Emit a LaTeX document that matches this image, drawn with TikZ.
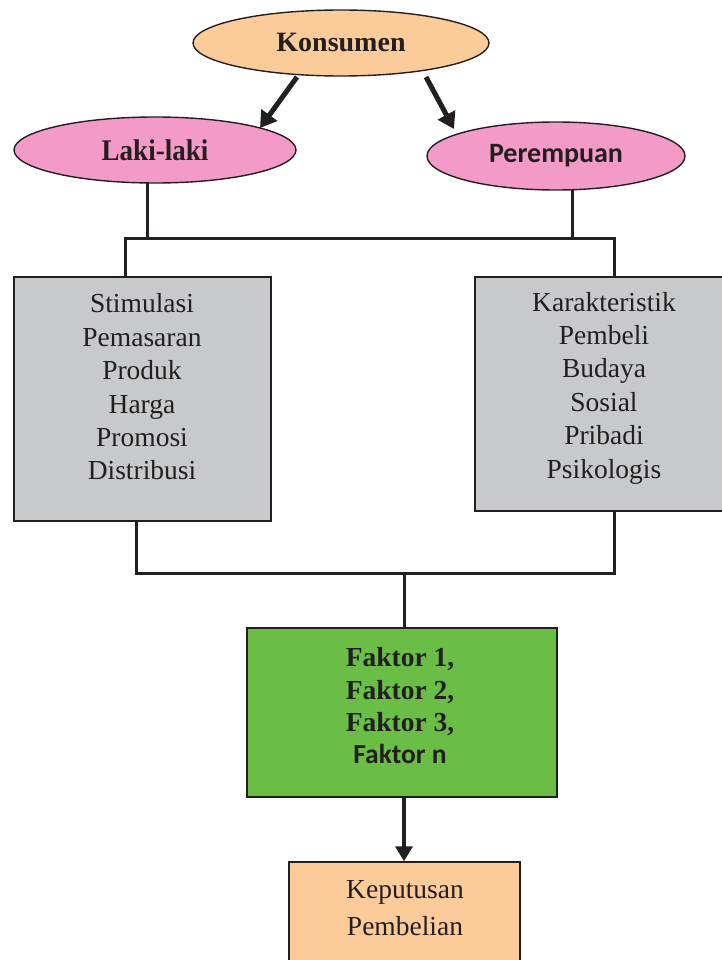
\documentclass[tikz,border=0pt]{standalone}
\usepackage{fontspec}
\setmainfont{Liberation Serif}
\newfontfamily\carl{Carlito}
\usetikzlibrary{shapes.geometric,arrows.meta}
\definecolor{peach}{HTML}{FBCB9A}
\definecolor{pinkf}{HTML}{F39AC6}
\definecolor{grayf}{HTML}{C8C9CB}
\definecolor{greenf}{HTML}{6ABD45}
\definecolor{ink}{HTML}{231F20}
\tikzset{
  ell/.style={ellipse, draw=ink, line width=1.4pt, inner sep=0pt, text=ink},
  box/.style={rectangle, draw=ink, line width=1.4pt, inner sep=0pt},
  txt/.style={align=center, text=ink, inner sep=0pt, font=\fontsize{27.5}{33.4}\selectfont},
  conn/.style={draw=ink, line width=3pt, line cap=rect, line join=miter},
  bigarrow/.style={draw=ink, line width=5pt, -{Triangle[length=16pt,width=19pt]}},
  downarrow/.style={draw=ink, line width=3.8pt, -{Triangle[length=15pt,width=17pt]}}
}
\begin{document}
\begin{tikzpicture}[x=1pt,y=-1pt]
\useasboundingbox (0,0) rectangle (722,960);
% ellipses
\node[ell, fill=peach, minimum width=296pt, minimum height=66pt] (K) at (341,43)
  {\fontsize{28}{30}\selectfont\bfseries Konsumen};
\node[ell, fill=pinkf, minimum width=282pt, minimum height=66pt] (L) at (155,150)
  {\fontsize{30}{30}\selectfont\bfseries\scalebox{0.9}[1]{Laki-laki}};
\node[ell, fill=pinkf, minimum width=258pt, minimum height=68pt] (P) at (556,156)
  {\fontsize{28}{30}\selectfont\carl\bfseries Perempuan};
% arrows from Konsumen
\draw[bigarrow] ([xshift=-44pt,yshift=-34pt]K.center) -- ([xshift=105pt,yshift=22pt]L.center);
\draw[bigarrow] ([xshift=85pt,yshift=-34pt]K.center) -- ([xshift=-102pt,yshift=27pt]P.center);
% gray boxes
\node[box, fill=grayf, minimum width=257pt, minimum height=244pt] (LB) at (142.5,399) {};
\node[box, fill=grayf, minimum width=256pt, minimum height=234pt] (RB) at (603,394) {};
\node[txt] (LBt) at (142,387) {Stimulasi\\Pemasaran\\Produk\\Harga\\Promosi\\Distribusi};
\node[txt] (RBt) at (604,388) {Karakteristik\\Pembeli\\Budaya\\Sosial\\Pribadi\\Psikologis};
% junctions
\coordinate (j1) at (125,238);
\coordinate (j2) at (614,238);
\coordinate (j3) at (136,573);
\coordinate (j4) at (614,573);
\draw[conn] ([xshift=-8pt]L.south) -- ([xshift=-8pt]L.south |- j1);
\draw[conn] ([xshift=16pt]P.south) -- ([xshift=16pt]P.south |- j1);
\draw[conn] (LB.north -| j1) -- (j1) -- (j2) -- (RB.north -| j2);
% green box
\node[box, fill=greenf, minimum width=310pt, minimum height=169pt] (G) at (402,712.5) {};
\node[txt, font=\fontsize{27.5}{32.3}\selectfont\bfseries] (Gt) at (400,706)
  {Faktor 1,\\Faktor 2,\\Faktor 3,\\{\carl\fontsize{27.5}{32.3}\selectfont\bfseries Faktor n}};
\draw[conn] (LB.south -| j3) -- (j3) -- (j4) -- (RB.south -| j4);
\draw[conn] ([xshift=2pt]G.north) -- ([xshift=2pt]G.north |- j3);
% decision box
\node[box, fill=peach, minimum width=231pt, minimum height=130pt] (D) at (404.5,927) {};
\node[txt, font=\fontsize{27.5}{37}\selectfont] (Dt) at (405,908) {Keputusan\\Pembelian};
\draw[downarrow] ([xshift=2pt]G.south) -- ([xshift=2pt]G.south |- D.north);
\end{tikzpicture}
\end{document}
